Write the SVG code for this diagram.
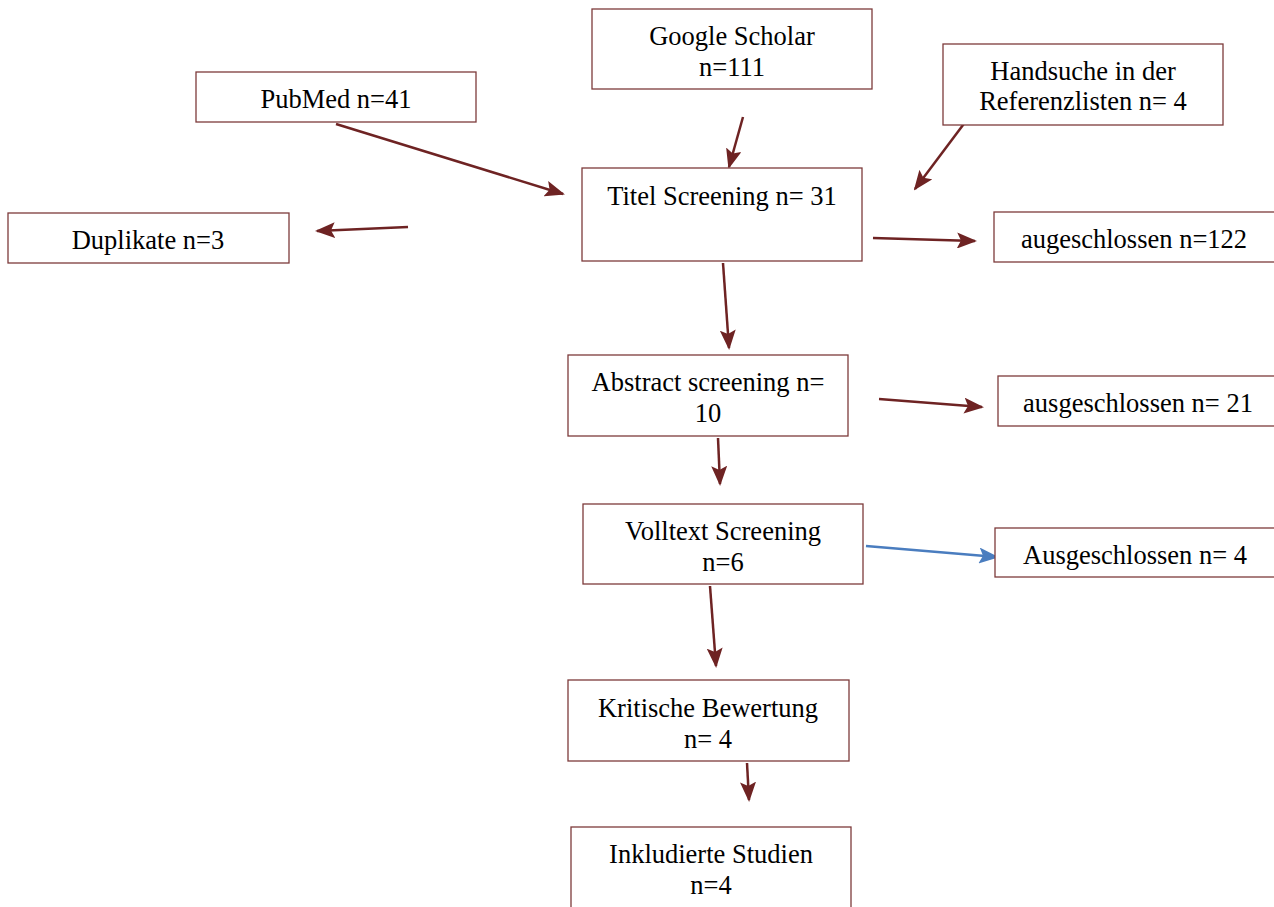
<svg xmlns="http://www.w3.org/2000/svg" width="1274" height="907" viewBox="0 0 1274 907">
<style>
.box{fill:#fff;stroke:#7d3b3b;stroke-width:1.3}
.t{font-family:"Liberation Serif","Times New Roman",serif;font-size:26.5px;fill:#000;text-anchor:middle}
.c{stroke:#6e2323;stroke-width:2.5;fill:none;marker-end:url(#ah)}
.cb{stroke:#4a7dbf;stroke-width:2.5;fill:none;marker-end:url(#ahb)}
</style>
<defs>
<marker id="ah" markerUnits="userSpaceOnUse" markerWidth="20" markerHeight="16" refX="18" refY="8" orient="auto" viewBox="0 0 20 16"><path d="M0,0 L20,8 L0,16 L4,8 Z" fill="#6e2323"/></marker>
<marker id="ahb" markerUnits="userSpaceOnUse" markerWidth="20" markerHeight="16" refX="18" refY="8" orient="auto" viewBox="0 0 20 16"><path d="M0,0 L20,8 L0,16 L4,8 Z" fill="#4a7dbf"/></marker>
</defs>
<rect width="1274" height="907" fill="#fff"/>
<g id="connectors">
<line class="c" x1="336" y1="124" x2="563" y2="194"/>
<line class="c" x1="743" y1="117" x2="729" y2="167"/>
<line class="c" x1="978" y1="105" x2="915" y2="189"/>
<line class="c" x1="408" y1="227" x2="317" y2="231"/>
<line class="c" x1="873" y1="238" x2="975" y2="241"/>
<line class="c" x1="723" y1="263" x2="729" y2="348"/>
<line class="c" x1="879" y1="399" x2="982" y2="407"/>
<line class="c" x1="718" y1="438" x2="720" y2="484"/>
<line class="cb" x1="866" y1="546" x2="997" y2="557"/>
<line class="c" x1="710" y1="586" x2="716" y2="666"/>
<line class="c" x1="747" y1="763" x2="749" y2="800"/>
</g>
<g id="google"><rect class="box" x="592" y="9" width="280" height="80"/><text class="t" x="732" y="45">Google Scholar</text><text class="t" x="732" y="76">n=111</text></g>
<g id="pubmed"><rect class="box" x="196" y="72" width="280" height="50"/><text class="t" x="336" y="108">PubMed n=41</text></g>
<g id="handsuche"><rect class="box" x="943" y="44" width="280" height="81"/><text class="t" x="1083" y="80">Handsuche in der</text><text class="t" x="1083" y="110">Referenzlisten n= 4</text></g>
<g id="titel"><rect class="box" x="582" y="168" width="280" height="93"/><text class="t" x="722" y="205">Titel Screening n= 31</text></g>
<g id="duplikate"><rect class="box" x="8" y="213" width="281" height="50"/><text class="t" x="148" y="249">Duplikate n=3</text></g>
<g id="ausg122"><rect class="box" x="994" y="212" width="290" height="50"/><text class="t" x="1134" y="248">augeschlossen n=122</text></g>
<g id="abstract"><rect class="box" x="568" y="355" width="280" height="81"/><text class="t" x="708" y="391">Abstract screening n=</text><text class="t" x="708" y="422">10</text></g>
<g id="ausg21"><rect class="box" x="998" y="376" width="286" height="50"/><text class="t" x="1138" y="412">ausgeschlossen n= 21</text></g>
<g id="volltext"><rect class="box" x="583" y="504" width="280" height="80"/><text class="t" x="723" y="540">Volltext Screening</text><text class="t" x="723" y="571">n=6</text></g>
<g id="ausg4"><rect class="box" x="995" y="528" width="289" height="49"/><text class="t" x="1135" y="564">Ausgeschlossen n= 4</text></g>
<g id="kritisch"><rect class="box" x="568" y="680" width="281" height="81"/><text class="t" x="708" y="717">Kritische Bewertung</text><text class="t" x="708" y="748">n= 4</text></g>
<g id="inkludiert"><rect class="box" x="571" y="827" width="280" height="90"/><text class="t" x="711" y="863">Inkludierte Studien</text><text class="t" x="711" y="894">n=4</text></g>
</svg>
